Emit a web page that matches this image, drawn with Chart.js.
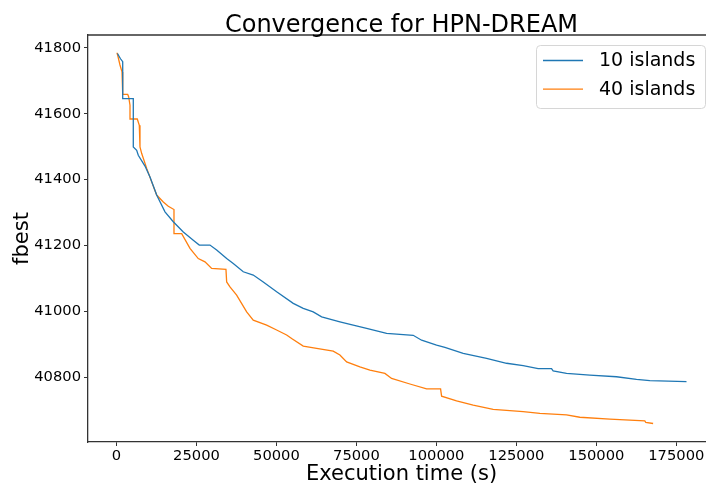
<!DOCTYPE html>
<html>
<head>
<meta charset="utf-8">
<title>Convergence for HPN-DREAM</title>
<script src="https://cdn.jsdelivr.net/npm/chart.js@4.4.1/dist/chart.umd.min.js"></script>
<style>
  html, body { margin: 0; padding: 0; background: #fff; overflow: hidden; }
  #wrap { position: relative; width: 715px; height: 485px; }
</style>
</head>
<body>
<div id="wrap"><canvas id="conv"></canvas></div>
<script>
// best fitness over wall-clock time, one run per island count
const timeTen = [300, 1250, 1940, 1940, 5250, 5250, 6310, 6810, 8910, 10470, 12560, 15160, 17750, 20880, 24000, 25880, 29220, 31310, 34440, 36500, 39630, 42750, 45880, 50060, 55250, 58380, 61500, 64130, 69840, 74000, 78190, 84440, 92750, 95380, 100060, 102660, 108380, 115690, 121940, 127130, 131810, 136000, 136500, 140690, 147970, 156310, 162560, 166720, 178190];
const fbestTen = [41783, 41767, 41758, 41646, 41646, 41499, 41489, 41474, 41441, 41408, 41353, 41302, 41272, 41241, 41216, 41201, 41201, 41186, 41160, 41145, 41120, 41110, 41089, 41059, 41024, 41009, 40998, 40983, 40968, 40958, 40948, 40933, 40927, 40912, 40897, 40890, 40872, 40857, 40842, 40835, 40826, 40826, 40819, 40811, 40806, 40801, 40793, 40789, 40786];

const timeForty = [0, 250, 1090, 1720, 1940, 3500, 3810, 4220, 4220, 6500, 7130, 7340, 7340, 7880, 9440, 11000, 12560, 14630, 16190, 17970, 17970, 20380, 22970, 25560, 27660, 29750, 34220, 34440, 35470, 37560, 40690, 42750, 46940, 50060, 53190, 54750, 58380, 62560, 67750, 69840, 71940, 76090, 79220, 83910, 86000, 91720, 96940, 101310, 101630, 106310, 111500, 117750, 127130, 132340, 140690, 144840, 154220, 165160, 165470, 167750];
const fbestForty = [41783, 41783, 41748, 41727, 41659, 41659, 41651, 41626, 41584, 41584, 41565, 41545, 41499, 41479, 41434, 41393, 41353, 41332, 41319, 41309, 41236, 41236, 41191, 41160, 41150, 41130, 41127, 41089, 41074, 41049, 40998, 40973, 40958, 40943, 40928, 40917, 40894, 40887, 40879, 40867, 40846, 40831, 40821, 40811, 40796, 40779, 40764, 40764, 40742, 40728, 40715, 40702, 40695, 40690, 40685, 40678, 40672, 40667, 40662, 40659];

const seriesLabels = ['10 islands', '40 islands'];
const seriesColors = ['#1f77b4', '#ff7f0e'];
const xTicks = [0, 25000, 50000, 75000, 100000, 125000, 150000, 175000];
const yTicks = [40800, 41000, 41200, 41400, 41600, 41800];

const FONT = '"DejaVu Sans", Verdana, sans-serif';

function toPoints(xs, ys){
  return xs.map((x, i) => ({x: x, y: ys[i]}));
}

// 5% padding around the data, like the usual autoscale
function paddedRange(values){
  const lo = Math.min(...values), hi = Math.max(...values);
  const pad = (hi - lo) * 0.05;
  return [lo - pad, hi + pad];
}
const [xMin, xMax] = paddedRange(timeTen.concat(timeForty));
const [yMin, yMax] = paddedRange(fbestTen.concat(fbestForty));

// title, top frame line and the boxed legend
const decorations = {
  id: 'decorations',
  afterDraw(chart){
    const ctx = chart.ctx;
    const a = chart.chartArea;
    ctx.save();

    ctx.strokeStyle = '#333';
    ctx.lineWidth = 1.3;
    ctx.beginPath();
    ctx.moveTo(a.left, a.top);
    ctx.lineTo(a.right, a.top);
    ctx.stroke();

    ctx.fillStyle = '#000';
    ctx.font = '24px ' + FONT;
    ctx.textAlign = 'center';
    ctx.textBaseline = 'alphabetic';
    ctx.fillText('Convergence for HPN-DREAM', (a.left + a.right) / 2, a.top - 3.5);

    const w = 169, h = 63;
    const bx = a.right - 10 - w, by = a.top + 10;
    ctx.beginPath();
    ctx.roundRect(bx + 0.5, by + 0.5, w, h, 4);
    ctx.fillStyle = 'rgba(255,255,255,0.8)';
    ctx.fill();
    ctx.strokeStyle = '#d6d6d6';
    ctx.lineWidth = 1;
    ctx.stroke();

    ctx.font = '19px ' + FONT;
    ctx.textAlign = 'left';
    ctx.textBaseline = 'middle';
    chart.data.datasets.forEach((ds, i) => {
      const y = by + 15.5 + i * 28.7;
      ctx.strokeStyle = ds.borderColor;
      ctx.lineWidth = 1.3;
      ctx.beginPath();
      ctx.moveTo(bx + 7, y);
      ctx.lineTo(bx + 47, y);
      ctx.stroke();
      ctx.fillStyle = '#000';
      ctx.fillText(ds.label, bx + 63, y + 1);
    });
    ctx.restore();
  }
};

const ctx = document.getElementById('conv').getContext('2d');
new Chart(ctx, {
  type: 'line',
  data: {
    datasets: [
      {label: seriesLabels[0], data: toPoints(timeTen, fbestTen), borderColor: seriesColors[0], backgroundColor: seriesColors[0]},
      {label: seriesLabels[1], data: toPoints(timeForty, fbestForty), borderColor: seriesColors[1], backgroundColor: seriesColors[1]}
    ]
  },
  options: {
    responsive: true,
    maintainAspectRatio: false,
    animation: false,
    layout: {padding: {top: 35, left: 0, right: 0, bottom: 0}},
    elements: {
      point: {radius: 0, hoverRadius: 0},
      line: {borderWidth: 1.3, tension: 0}
    },
    plugins: {
      legend: {display: false},
      title: {display: false},
      tooltip: {enabled: false}
    },
    scales: {
      x: {
        type: 'linear',
        min: xMin,
        max: xMax,
        afterBuildTicks: s => { s.ticks = xTicks.map(v => ({value: v})); },
        afterFit: s => { s.height = 43; },
        ticks: {color: '#000', font: {family: FONT, size: 14.7}, padding: 1, maxRotation: 0, callback: v => String(v)},
        grid: {drawOnChartArea: false, drawTicks: true, tickLength: 4, tickColor: '#333', tickWidth: 1},
        border: {display: true, color: '#333', width: 1.3},
        title: {display: true, text: 'Execution time (s)', color: '#000', font: {family: FONT, size: 21, lineHeight: 1.0}, padding: {top: 0, bottom: 0}}
      },
      y: {
        type: 'linear',
        min: yMin,
        max: yMax,
        afterBuildTicks: s => { s.ticks = yTicks.map(v => ({value: v})); },
        afterFit: s => { s.width = 88; },
        ticks: {color: '#000', font: {family: FONT, size: 14.7}, padding: 3, callback: v => String(v)},
        grid: {drawOnChartArea: false, drawTicks: true, tickLength: 4, tickColor: '#333', tickWidth: 1},
        border: {display: true, color: '#333', width: 1.3},
        title: {display: true, text: 'fbest', color: '#000', font: {family: FONT, size: 21, lineHeight: 1.2}, padding: {top: 10, bottom: 0}}
      }
    }
  },
  plugins: [decorations]
});
</script>
</body>
</html>
